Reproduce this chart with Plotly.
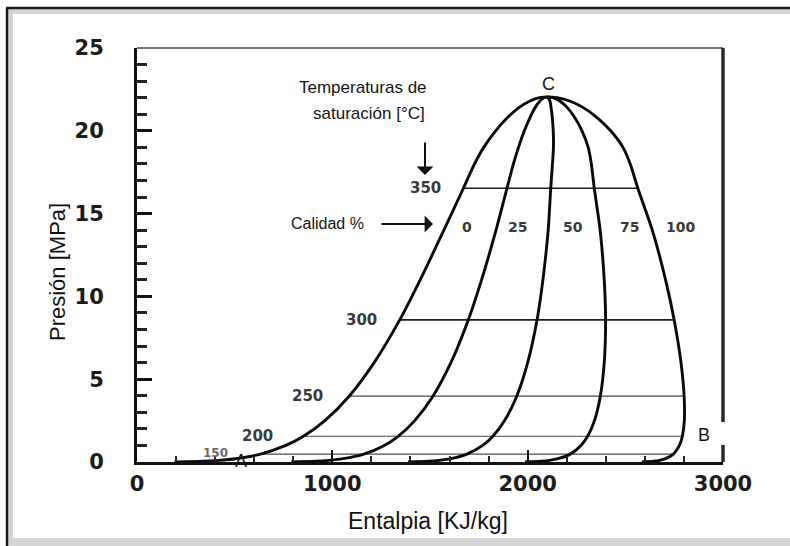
import plotly.graph_objects as go

# ---------------- data ----------------
P_MPa   = [0.01, 0.05, 0.1, 0.2, 0.476, 1.0, 1.554, 2.5, 3.973, 6.0, 8.581, 11.0, 14.0,
           16.53, 18.0, 19.0, 20.0, 20.8, 21.4, 21.8, 22.0, 22.05]
h_q0    = [192, 340, 417, 505, 632, 762, 852, 962, 1086, 1214, 1345, 1450, 1571,
           1671, 1728, 1775, 1836, 1897, 1955, 2012, 2060, 2104]
h_q25   = [790, 916, 982, 1055, 1161, 1266, 1337, 1422, 1515, 1607, 1696, 1764, 1838,
           1894, 1927, 1953, 1983, 2012, 2038, 2063, 2083, 2104]
h_q50   = [1388, 1493, 1546, 1606, 1689, 1770, 1822, 1882, 1944, 2000, 2048, 2078, 2105,
           2118, 2127, 2132, 2131, 2126, 2120, 2114, 2105, 2104]
h_q75   = [1986, 2069, 2111, 2156, 2218, 2273, 2307, 2342, 2372, 2392, 2399, 2392, 2371,
           2341, 2326, 2310, 2278, 2241, 2203, 2164, 2128, 2104]
h_q100  = [2584, 2645, 2675, 2706, 2746, 2777, 2792, 2802, 2801, 2785, 2750, 2706, 2638,
           2564, 2525, 2488, 2425, 2355, 2285, 2215, 2150, 2104]

T_sat_C   = [150, 200, 250, 300, 350]
P_sat_MPa = [0.476, 1.554, 3.973, 8.581, 16.53]
hf_sat    = [632, 852, 1086, 1345, 1671]
hg_sat    = [2746, 2792, 2801, 2750, 2564]

quality_labels = ["0", "25", "50", "75", "100"]

x_ticks = [0, 1000, 2000, 3000]
y_ticks = [0, 5, 10, 15, 20, 25]

# ---------------- geometry helpers (pixel -> data / paper) ----------------
W, H = 790, 546
L, R, T, B = 137, 723, 48, 462
XR, YR = 3000.0, 25.0

def dx(px):
    return (px - L) / (R - L) * XR

def dy(py):
    return (B - py) / (B - T) * YR

def px_(px):
    return (px - L) / (R - L)

def py_(py):
    return (B - py) / (B - T)

fig = go.Figure()

# isobars (saturation temperatures)
for i, t in enumerate(T_sat_C):
    heavy = t >= 300
    fig.add_trace(go.Scatter(
        x=[hf_sat[i], hg_sat[i]], y=[P_sat_MPa[i], P_sat_MPa[i]],
        mode="lines", line=dict(color="#1e1e1e" if heavy else "#4a4a4a",
                                width=1.7 if heavy else 1.2),
        showlegend=False, hoverinfo="skip"))

# quality lines
for hq in (h_q25, h_q50, h_q75):
    fig.add_trace(go.Scatter(
        x=hq, y=P_MPa, mode="lines",
        line=dict(color="#0a0a0a", width=2.9, shape="spline", smoothing=0.8),
        showlegend=False, hoverinfo="skip"))

# saturation dome (0 % and 100 %)
dome_x = h_q0 + h_q100[::-1][1:]
dome_y = P_MPa + P_MPa[::-1][1:]
fig.add_trace(go.Scatter(
    x=dome_x, y=dome_y, mode="lines",
    line=dict(color="#0a0a0a", width=2.9, shape="spline", smoothing=0.8),
    showlegend=False, hoverinfo="skip"))

ann = []
# temperature labels
temp_pos = [(215, 453), (257, 436), (307, 396), (361, 320), (425, 188)]
for i, t in enumerate(T_sat_C):
    ax_, ay_ = temp_pos[i]
    small = t == 150
    ann.append(dict(x=dx(ax_), y=dy(ay_), text=str(t), showarrow=False,
                    xanchor="center", yanchor="middle",
                    font=dict(family="DejaVu Sans", size=12 if small else 15,
                              color="#6a6a6a" if small else "#3a3a3a", weight="bold")))

# quality labels
q_pos = [467, 517, 573, 629, 680]
for i, q in enumerate(quality_labels):
    ann.append(dict(x=dx(q_pos[i]), y=dy(227), text=q, showarrow=False,
                    xanchor="center", yanchor="middle",
                    font=dict(family="DejaVu Sans", size=14, color="#3a3a3a", weight="bold")))

txt_font = dict(family="Arial, Liberation Sans", size=17, color="#141414")
letter_font = dict(family="Arial, Liberation Sans", size=18, color="#141414")
ann += [
    dict(x=dx(363), y=dy(87), text="Temperaturas de", showarrow=False, font=txt_font,
         xanchor="center", yanchor="middle"),
    dict(x=dx(369), y=dy(113), text="saturación [°C]", showarrow=False, font=txt_font,
         xanchor="center", yanchor="middle"),
    dict(x=dx(327), y=dy(223), text="Calidad %", showarrow=False,
         xanchor="center", yanchor="middle",
         font=dict(family="Arial, Liberation Sans", size=16, color="#141414")),
    dict(x=dx(548), y=dy(84), text="C", showarrow=False, font=letter_font,
         xanchor="center", yanchor="middle"),
    dict(x=dx(241), y=dy(461), text="A", showarrow=False, font=letter_font,
         xanchor="center", yanchor="middle"),
    dict(x=dx(704), y=dy(435), text="B", showarrow=False, font=letter_font,
         xanchor="center", yanchor="middle"),
    # arrows
    dict(x=dx(425), y=dy(175), ax=0, ay=-34, text="", showarrow=True,
         arrowhead=1, arrowsize=1.4, arrowwidth=2, arrowcolor="#111", standoff=0),
    dict(x=dx(433), y=dy(224), ax=-53, ay=0, text="", showarrow=True,
         arrowhead=1, arrowsize=1.4, arrowwidth=2, arrowcolor="#111", standoff=0),
    # axis titles
    dict(xref="paper", yref="paper", x=px_(57), y=py_(272), text="Presión [MPa]",
         textangle=-90, showarrow=False, xanchor="center", yanchor="middle",
         font=dict(family="Arial, Liberation Sans", size=22, color="#111")),
    dict(xref="paper", yref="paper", x=px_(428), y=py_(521), text="Entalpia [KJ/kg]",
         showarrow=False, xanchor="center", yanchor="middle",
         font=dict(family="Arial, Liberation Sans", size=23, color="#111")),
]

shapes = [
    # plot frame: top (thin) and right (thick, interrupted by the B box)
    dict(type="line", xref="paper", yref="paper", x0=0, x1=1, y0=1, y1=1,
         line=dict(color="#444", width=1.5)),
    dict(type="line", xref="paper", yref="paper", x0=1, x1=1, y0=1, y1=py_(422),
         line=dict(color="#2a2a2a", width=3.5)),
    dict(type="line", xref="paper", yref="paper", x0=1, x1=1, y0=py_(445), y1=0,
         line=dict(color="#2a2a2a", width=3.5)),
    # outer picture frame
    dict(type="rect", xref="paper", yref="paper", x0=px_(8), x1=px_(795), y0=py_(9), y1=py_(14),
         line=dict(width=0), fillcolor="#d4d4d4", layer="below"),
    dict(type="rect", xref="paper", yref="paper", x0=px_(8), x1=px_(13), y0=py_(9), y1=py_(546),
         line=dict(width=0), fillcolor="#d4d4d4", layer="below"),
    dict(type="line", xref="paper", yref="paper", x0=px_(6), x1=px_(795), y0=py_(8), y1=py_(8),
         line=dict(color="#1a1a1a", width=2.5)),
    dict(type="line", xref="paper", yref="paper", x0=px_(7), x1=px_(7), y0=py_(8), y1=py_(546),
         line=dict(color="#1a1a1a", width=2.5)),
    dict(type="rect", xref="paper", yref="paper", x0=px_(8), x1=px_(795), y0=py_(538), y1=py_(550),
         line=dict(width=0), fillcolor="#d6d6d6", layer="below"),
]

tickfont = dict(family="DejaVu Sans", size=21, color="#1c1c1c", weight="bold")

fig.update_layout(
    width=W, height=H,
    margin=dict(l=L, r=W - R, t=T, b=H - B, pad=0),
    paper_bgcolor="white", plot_bgcolor="white",
    showlegend=False,
    annotations=ann, shapes=shapes,
    xaxis=dict(range=[0, XR], tickvals=x_ticks, ticktext=[str(v) for v in x_ticks],
               showgrid=False, zeroline=False, showline=True, linecolor="#111", linewidth=3,
               ticks="inside", ticklen=12, tickwidth=2, tickcolor="#111",
               minor=dict(dtick=200, ticks="inside", ticklen=6, tickwidth=2, tickcolor="#222"),
               tickfont=tickfont, ticklabelstandoff=1, fixedrange=True),
    yaxis=dict(range=[0, YR], tickvals=y_ticks, ticktext=[str(v) for v in y_ticks],
               showgrid=False, zeroline=False, showline=True, linecolor="#111", linewidth=3,
               ticks="inside", ticklen=15, tickwidth=2.5, tickcolor="#111",
               minor=dict(dtick=1, ticks="inside", ticklen=10, tickwidth=2.5, tickcolor="#222"),
               tickfont=tickfont, ticklabelstandoff=26, fixedrange=True),
)

fig.write_html("out.html", config={"displayModeBar": False})
